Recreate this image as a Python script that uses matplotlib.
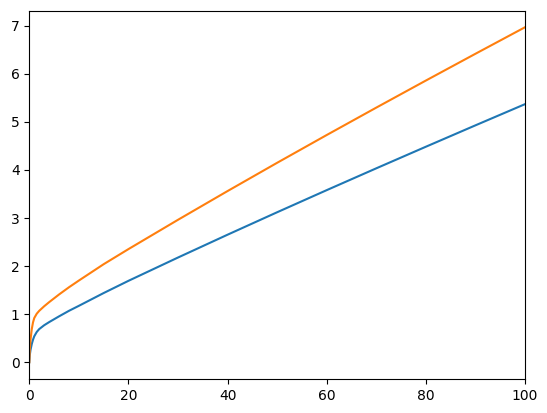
import matplotlib
matplotlib.use("Agg")
import matplotlib.pyplot as plt

# values
x = [0, 0.1, 0.25, 0.5, 0.75, 1, 1.5, 2, 3, 4, 6, 8, 10, 15, 20,
     30, 40, 50, 60, 70, 80, 90, 100]
blue = [0, 0.15, 0.26, 0.38, 0.47, 0.54, 0.63, 0.69, 0.77, 0.835, 0.955,
        1.07, 1.174, 1.44, 1.694, 2.179, 2.654, 3.121, 3.581, 4.035, 4.484,
        4.929, 5.37]
orange = [0, 0.27, 0.47, 0.69, 0.83, 0.92, 1.01, 1.07, 1.165, 1.25, 1.41,
          1.56, 1.70, 2.04, 2.354, 2.964, 3.562, 4.150, 4.728, 5.298, 5.861,
          6.418, 6.97]


def main():
    fig = plt.figure(figsize=(5.47, 4.13), dpi=100)
    ax = fig.add_axes([29.3 / 547, 34 / 413, (525 - 29.3) / 547, (379 - 10.5) / 413])
    ax.plot(x, blue)
    ax.plot(x, orange)
    ax.set_xlim(0, 100)
    fig.savefig("out.png", dpi=100)


if __name__ == '__main__':
    main()
